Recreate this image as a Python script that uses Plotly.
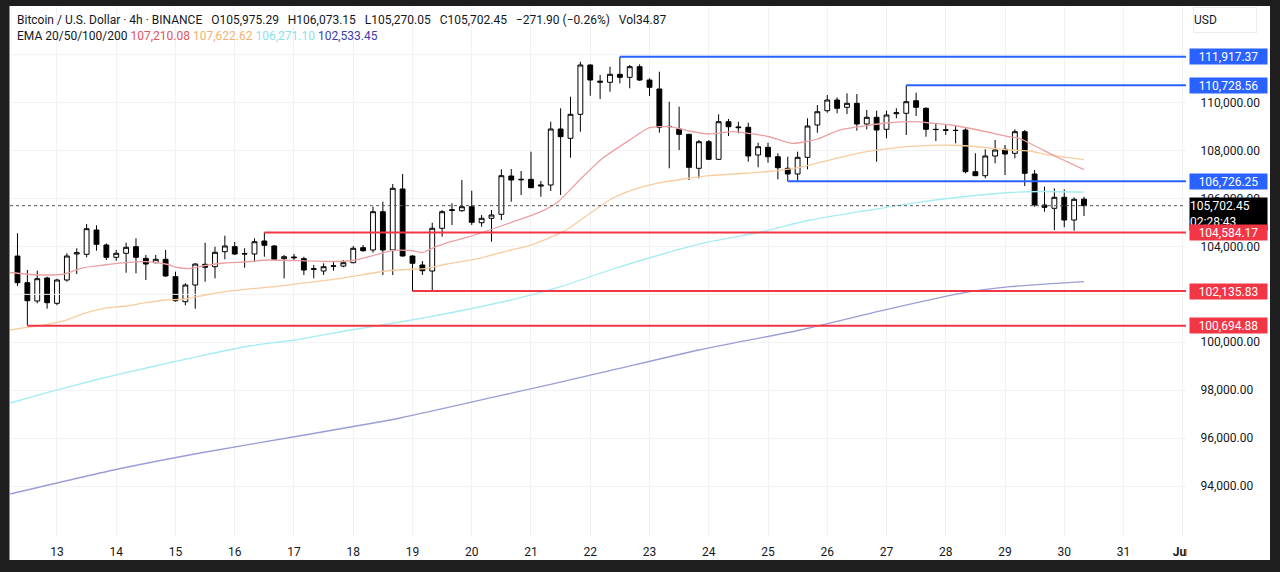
import pandas as pd
import plotly.graph_objects as go

# BTCUSD 4h (BINANCE), 12 May 08:00 -> 30 May 08:00
opens = [103600, 102487, 101723, 102683, 101627, 102600, 103685, 103672, 104687, 104060,
         103547, 103714, 103990, 103505, 103322, 103463, 102737, 101694, 102391, 103255,
         103155, 103781, 103990, 103680, 103685, 104227, 104019, 103489, 103560, 103489,
         103040, 102975, 103170, 103180, 103322, 103950, 103852, 105450, 103852, 106398,
         103601, 103226, 102975, 104758, 105500, 105492, 105659, 104991, 105175, 105342,
         106940, 106780, 106800, 106520, 106565, 108902, 108514, 109516, 111574, 110900,
         110852, 111185, 111060, 111503, 110947, 110572, 109000, 108902, 108681, 107262,
         108372, 107637, 109207, 108990, 108973, 107817, 108138, 107746, 107262, 107024,
         107721, 109069, 109666, 110113, 109808, 109975, 109111, 109391, 108890, 109540,
         109558, 110084, 109766, 108890, 108870, 108850, 108860, 107120, 106953, 107775,
         108055, 107888, 108790, 107024, 105730, 105592, 106051, 105104, 105975.29]
highs = [104548, 103017, 102988, 102737, 102654, 103714, 103923, 104937, 104883, 104130,
         103852, 104156, 104340, 103643, 103643, 103852, 102946, 102462, 103295, 104156,
         103990, 104449, 104186, 103923, 104340, 104584.17, 104060, 103643, 103685, 103572,
         103226, 103295, 103363, 103434, 104019, 104060, 105659, 105868, 106607, 107024,
         103620, 103392, 104991, 105521, 105801, 106774, 106327, 105313, 105521, 107220,
         107233, 107149, 107955, 106732, 109207, 109766, 110250, 111711, 111600, 111156,
         111503, 111917.37, 111574, 111603, 111018, 111294, 110042, 109833, 108700, 108443,
         108443, 109516, 109320, 109207, 109165, 108330, 108330, 107888, 107746, 107955,
         109349, 109904, 110321, 110225, 110392, 110363, 109695, 109666, 109666, 109766,
         110728.56, 110417, 109808, 109140, 109069, 109069, 108931, 107888, 108055, 108443,
         108234, 108890, 108860, 107191, 106494, 106427, 106385, 106051, 106073.15]
lows = [102350, 100694.88, 101627, 101402, 101544, 102529, 102850, 103547, 103822, 103434,
        103405, 102904, 102879, 102600, 103295, 102737, 101694, 101544, 101402, 102529,
        102670, 103463, 103643, 103113, 103363, 103572, 103440, 102670, 103405, 102808,
        102670, 102808, 102988, 103130, 103295, 103781, 103739, 102808, 102808, 103580,
        102135.83, 102808, 102182, 104407, 104896, 105450, 104896, 104825, 104198, 105104,
        105868, 106147, 106440, 106077, 106314, 106147, 107704, 108790, 110292, 110154,
        110459, 110810, 110601, 110906, 110280, 108748, 107262, 108026, 106774, 106845,
        107620, 107620, 108610, 108723, 107537, 107304, 107496, 106803, 106726.25, 106740,
        107220, 108748, 109583, 109558, 109528, 108831, 108890, 107537, 108514, 109349,
        108652, 109445, 108581, 108401, 108652, 108305, 107053, 106940, 106845, 107471,
        106982, 107679, 106523, 105659, 105450, 104687, 104800, 104658, 105270.05]
closes = [102487, 101735, 102654, 101652, 102600, 103601, 103740, 104741, 104090, 103547,
          103714, 103964, 103547, 103267, 103463, 102767, 101735, 102391, 103267, 103130,
          103756, 104019, 103685, 103700, 104198, 104048, 103463, 103572, 103530, 103017,
          103070, 103155, 103190, 103322, 103923, 103822, 105450, 103852, 106427, 103601,
          103297, 102988, 104758, 105450, 105530, 105659, 105008, 105175, 105313, 106953,
          106774, 106800, 106452, 106560, 108902, 108581, 109516, 111574, 110947, 110860,
          111185, 111060, 111503, 110947, 110643, 108973, 109010, 108681, 107304, 108372,
          107637, 109207, 108998, 108960, 107775, 108163, 107746, 107287, 107024, 107721,
          109027, 109624, 110113, 109766, 109975, 109111, 109391, 108860, 109487, 109580,
          110042, 109808, 108890, 108880, 108850, 108840, 107120, 106953, 107775, 108026,
          107859, 108790, 107053, 105730, 105634, 106051, 105104, 105968, 105702.45]
candle_times = pd.date_range("2025-05-12 08:00", periods=len(opens), freq="4h")

# EMA lines, sampled along the drawn curves
ema20_t = ["2025-05-12 05:00", "2025-05-12 11:00", "2025-05-12 19:00", "2025-05-13 03:00",
           "2025-05-13 07:00", "2025-05-13 11:00", "2025-05-13 19:00", "2025-05-14 04:00",
           "2025-05-14 12:00", "2025-05-14 20:00", "2025-05-15 01:00", "2025-05-15 06:00",
           "2025-05-15 12:00", "2025-05-15 20:00", "2025-05-16 04:00", "2025-05-16 13:00",
           "2025-05-17 02:00", "2025-05-17 16:00", "2025-05-18 00:00", "2025-05-18 08:00",
           "2025-05-18 16:00", "2025-05-18 23:00", "2025-05-19 04:00", "2025-05-19 08:00",
           "2025-05-19 15:00", "2025-05-19 23:00", "2025-05-20 13:00", "2025-05-21 04:00",
           "2025-05-21 11:00", "2025-05-21 19:00", "2025-05-22 05:00", "2025-05-22 16:00",
           "2025-05-23 00:00", "2025-05-23 08:00", "2025-05-23 16:00", "2025-05-24 00:00",
           "2025-05-24 10:00", "2025-05-25 00:00", "2025-05-25 10:00", "2025-05-25 20:00",
           "2025-05-26 05:00", "2025-05-26 16:00", "2025-05-27 00:00", "2025-05-27 11:00",
           "2025-05-27 19:00", "2025-05-28 02:00", "2025-05-28 14:00", "2025-05-29 01:00",
           "2025-05-29 06:00", "2025-05-29 13:00", "2025-05-29 21:00", "2025-05-30 04:00",
           "2025-05-30 08:00"]
ema20_v = [102913, 102850, 102808, 102850, 102988, 103121, 103226, 103322, 103363, 103267,
           103121, 103080, 103205, 103309, 103351, 103434, 103405, 103372, 103413, 103622,
           103822, 103831, 103747, 103923, 104186, 104407, 104895, 105450, 105868, 106703,
           107679, 108443, 108957, 108998, 108819, 108694, 108790, 108589, 108305, 108485,
           108860, 109048, 109153, 109207, 109140, 109069, 108840, 108589, 108506, 108151,
           107734, 107400, 107210.08]

ema50_t = ["2025-05-12 05:00", "2025-05-12 11:00", "2025-05-12 19:00", "2025-05-13 03:00",
           "2025-05-13 11:00", "2025-05-13 19:00", "2025-05-14 04:00", "2025-05-14 12:00",
           "2025-05-14 20:00", "2025-05-15 04:00", "2025-05-15 12:00", "2025-05-15 20:00",
           "2025-05-16 04:00", "2025-05-16 16:00", "2025-05-17 05:00", "2025-05-17 19:00",
           "2025-05-18 08:00", "2025-05-18 15:00", "2025-05-18 22:00", "2025-05-19 06:00",
           "2025-05-19 14:00", "2025-05-20 03:00", "2025-05-20 16:00", "2025-05-21 00:00",
           "2025-05-21 13:00", "2025-05-21 23:00", "2025-05-22 09:00", "2025-05-22 19:00",
           "2025-05-23 03:00", "2025-05-23 14:00", "2025-05-24 00:00", "2025-05-24 10:00",
           "2025-05-25 00:00", "2025-05-25 13:00", "2025-05-26 02:00", "2025-05-26 16:00",
           "2025-05-27 05:00", "2025-05-27 19:00", "2025-05-28 06:00", "2025-05-28 16:00",
           "2025-05-29 02:00", "2025-05-29 10:00", "2025-05-29 18:00", "2025-05-30 04:00",
           "2025-05-30 08:00"]
ema50_v = [100512, 100609, 100721, 100901, 101210, 101418, 101514, 101652, 101765, 101806,
           101973, 102111, 102211, 102320, 102487, 102671, 102892, 102996, 103038, 103088,
           103267, 103505, 103852, 104060, 104616, 105313, 106010, 106427, 106636, 106815,
           106953, 107024, 107128, 107304, 107638, 107955, 108138, 108222, 108214, 108130,
           108026, 107984, 107817, 107679, 107622.62]

ema100_t = ["2025-05-12 05:00", "2025-05-12 21:00", "2025-05-13 17:00", "2025-05-14 14:00",
            "2025-05-15 10:00", "2025-05-16 06:00", "2025-05-17 00:00", "2025-05-17 23:00",
            "2025-05-18 19:00", "2025-05-19 15:00", "2025-05-20 16:00", "2025-05-21 12:00",
            "2025-05-22 08:00", "2025-05-23 04:00", "2025-05-24 00:00", "2025-05-24 21:00",
            "2025-05-25 17:00", "2025-05-26 13:00", "2025-05-27 10:00", "2025-05-28 06:00",
            "2025-05-29 02:00", "2025-05-29 15:00", "2025-05-30 08:00"]
ema100_v = [97465, 97925, 98467, 98968, 99427, 99845, 100095, 100512, 100847, 101222,
            101765, 102320, 103017, 103643, 104186, 104603, 105104, 105450, 105801, 106064,
            106252, 106294, 106271.10]

ema200_t = ["2025-05-12 05:00", "2025-05-13 23:00", "2025-05-15 10:00", "2025-05-17 02:00",
            "2025-05-18 19:00", "2025-05-20 11:00", "2025-05-22 04:00", "2025-05-23 20:00",
            "2025-05-25 13:00", "2025-05-26 23:00", "2025-05-28 06:00", "2025-05-29 02:00",
            "2025-05-30 08:00"]
ema200_v = [93667, 94669, 95378, 96088, 96839, 97758, 98718, 99678, 100512, 101347,
            102044, 102320, 102533.45]

# horizontal levels drawn on the chart
level_prices = [111917.37, 110728.56, 106726.25, 104584.17, 102135.83, 100694.88]
level_starts = ["2025-05-22 12:00", "2025-05-27 08:00", "2025-05-25 08:00",
                "2025-05-16 12:00", "2025-05-19 00:00", "2025-05-12 12:00"]
level_colors = ["#2962ff", "#2962ff", "#2962ff", "#f23645", "#f23645", "#f23645"]

last_price = 105702.45
countdown = "02:28:43"

# price scale labels (102k / 112k sit under the level tags)
price_ticks = [94000, 96000, 98000, 100000, 104000, 106000, 108000, 110000]
hidden_grid = [102000, 112000]

day_ticks = list(pd.date_range("2025-05-13", "2025-06-01", freq="D"))
day_labels = [str(d.day) for d in day_ticks[:-1]] + ["<b>Jun</b>"]

x_range = ["2025-05-12 04:58", "2025-06-01 01:19"]
y_range = [91872, 113995]

# plot area in pixels
W, H = 1280, 572
L, R, T, B = 10, 1186, 7, 537


def px_x(px):
    return (px - L) / (R - L)


def px_y(py):
    return (B - py) / (B - T)


fig = go.Figure()

for g in hidden_grid:
    fig.add_trace(go.Scatter(x=x_range, y=[g, g], mode="lines", line=dict(color="#f0f2f6", width=1),
                             hoverinfo="skip", showlegend=False))

ema_lines = [(ema200_t, ema200_v, "#9b9dd6"), (ema100_t, ema100_v, "#a6ecf3"),
             (ema50_t, ema50_v, "#f7cd9f"), (ema20_t, ema20_v, "#eba1a3")]
for t, v, c in ema_lines:
    fig.add_trace(go.Scatter(x=t, y=v, mode="lines", line=dict(color=c, width=1.3, shape="spline", smoothing=0.6),
                             hoverinfo="skip", showlegend=False))

fig.add_trace(go.Scatter(x=x_range, y=[last_price, last_price], mode="lines",
                         line=dict(color="#555555", width=1, dash="dot"), hoverinfo="skip", showlegend=False))

fig.add_trace(go.Candlestick(
    x=candle_times, open=opens, high=highs, low=lows, close=closes,
    increasing=dict(line=dict(color="#000000", width=1), fillcolor="#ffffff"),
    decreasing=dict(line=dict(color="#000000", width=1), fillcolor="#000000"),
    whiskerwidth=0, showlegend=False,
))

for p, s, c in zip(level_prices, level_starts, level_colors):
    fig.add_trace(go.Scatter(x=[s, x_range[1]], y=[p, p], mode="lines", line=dict(color=c, width=2),
                             hoverinfo="skip", showlegend=False))

# white chart card on the dark screenshot frame
fig.add_shape(type="rect", xref="paper", yref="paper", x0=px_x(9.5), x1=px_x(1270), y0=px_y(560), y1=px_y(6),
              fillcolor="#ffffff", line_width=0, layer="below")
# price scale clips the last time label
fig.add_shape(type="rect", xref="paper", yref="paper", x0=px_x(1187), x1=px_x(1198), y0=px_y(558), y1=px_y(539),
              fillcolor="#ffffff", line_width=0, layer="above")

# current price + countdown box
fig.add_annotation(xref="paper", yref="y", x=px_x(1189), y=last_price, xanchor="left", yanchor="top", yshift=9,
                   text=f"{last_price:,.2f}<br>{countdown}", showarrow=False, align="left", bgcolor="#000000",
                   width=77, height=32, borderpad=0, font=dict(color="#ffffff", size=12, family="Roboto"))

for p, c in zip(level_prices, level_colors):
    fig.add_annotation(xref="paper", yref="y", x=px_x(1189), y=p, xanchor="left", yanchor="middle",
                       text=f"{p:,.2f}", showarrow=False, align="center", bgcolor=c, width=77, height=15,
                       borderpad=0, font=dict(color="#ffffff", size=12, family="Roboto"))

fig.add_annotation(xref="paper", yref="paper", x=px_x(1193), y=px_y(7), xanchor="left", yanchor="top",
                   text="USD", showarrow=False, align="left", width=62, height=24, borderpad=0,
                   bordercolor="#e9ebf0", borderwidth=1, font=dict(color="#131722", size=12, family="Roboto"))

sp1 = "&nbsp;&nbsp;&nbsp;"
sp2 = "&nbsp;"
header1 = ("Bitcoin / U.S. Dollar · 4h · BINANCE" + sp1 + "O105,975.29" + sp1 + "H106,073.15" + sp1 +
           "L105,270.05" + sp1 + "C105,702.45" + sp1 + "−271.90 (−0.26%)" + sp1 + "Vol34.87")
header2 = ("EMA 20/50/100/200" + sp2 + "<span style='color:#e0545c'>107,210.08</span>" + sp2 +
           "<span style='color:#f2b276'>107,622.62</span>" + sp2 +
           "<span style='color:#86e2ec'>106,271.10</span>" + sp2 +
           "<span style='color:#3c3cae'>102,533.45</span>")
fig.add_annotation(xref="paper", yref="paper", x=px_x(15), y=px_y(20), xanchor="left", yanchor="middle",
                   text=header1, showarrow=False, font=dict(color="#131722", size=12, family="Roboto"))
fig.add_annotation(xref="paper", yref="paper", x=px_x(15), y=px_y(36), xanchor="left", yanchor="middle",
                   text=header2, showarrow=False, font=dict(color="#131722", size=12, family="Roboto"))

fig.update_layout(
    width=W, height=H,
    margin=dict(l=L, r=W - R, t=T, b=H - B),
    paper_bgcolor="#1e1e1e", plot_bgcolor="#ffffff",
    font=dict(family="Roboto", color="#131722", size=12),
    showlegend=False, hovermode=False,
    boxgap=0.3,
    xaxis=dict(type="date", range=x_range, rangeslider=dict(visible=False), tickvals=day_ticks,
               ticktext=day_labels, showgrid=True, gridcolor="#f0f2f6", gridwidth=1, zeroline=False,
               showline=False, ticks="outside", ticklen=4, tickcolor="rgba(0,0,0,0)",
               tickfont=dict(size=12, color="#131722")),
    yaxis=dict(side="right", range=y_range, tickvals=price_ticks, tickformat=",.2f", showgrid=True,
               gridcolor="#f0f2f6", gridwidth=1, zeroline=False, showline=False, ticks="outside",
               ticklen=11, tickcolor="rgba(0,0,0,0)", tickfont=dict(size=12, color="#131722")),
)

# page itself has no margin so the figure fills the window
fig.write_html("out.html", config={"displayModeBar": False},
               post_script="document.body.style.margin='0';document.body.style.overflow='hidden';"
                           "document.body.style.background='#1e1e1e';")
